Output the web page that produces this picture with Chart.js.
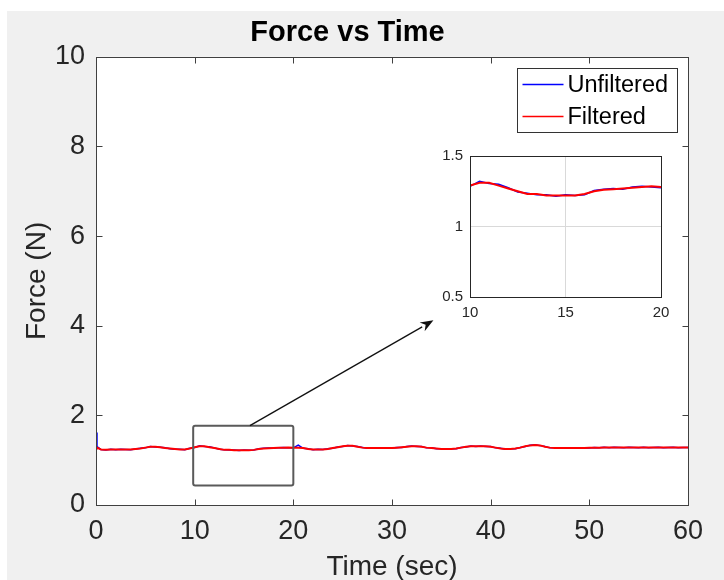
<!DOCTYPE html>
<html>
<head>
<meta charset="utf-8">
<script src="https://cdn.jsdelivr.net/npm/chart.js@4.4.1/dist/chart.umd.min.js"></script>
<style>
html, body { margin: 0; padding: 0; background: #fff; }
#fig { position: absolute; left: 7px; top: 11px; width: 717px; height: 569px; background: #f0f0f0; overflow: hidden; }
#main { position: absolute; left: 0; top: 0; }
#inset { position: absolute; left: 423px; top: 129px; }
</style>
</head>
<body>
<div id="fig">
    <canvas id="main" width="717" height="569"></canvas>
    <canvas id="inset" width="250" height="190"></canvas>
</div>
<script>
// Force vs Time — señal sin filtrar / filtrada + ampliación 10–20 s

const FONT = "'Liberation Sans', Arial, Helvetica, sans-serif";
const AXIS_CLR = '#262626';

const timeSec = [
    0, 0.1,
    0.5, 1, 1.5, 2, 2.5, 3, 3.5, 4, 4.5, 5,
    5.5, 6, 6.5, 7, 7.5, 8, 8.5, 9, 9.5, 10,
    10.5, 11, 11.5, 12, 12.5, 13, 13.5, 14, 14.5, 15,
    15.5, 16, 16.5, 17, 17.5, 18, 18.5, 19, 19.5, 20,
    20.5, 21, 21.5, 22, 22.5, 23, 23.5, 24, 24.5, 25,
    25.5, 26, 26.5, 27, 27.5, 28, 28.5, 29, 29.5, 30,
    30.5, 31, 31.5, 32, 32.5, 33, 33.5, 34, 34.5, 35,
    35.5, 36, 36.5, 37, 37.5, 38, 38.5, 39, 39.5, 40,
    40.5, 41, 41.5, 42, 42.5, 43, 43.5, 44, 44.5, 45,
    45.5, 46, 46.5, 47, 47.5, 48, 48.5, 49, 49.5, 50,
    50.5, 51, 51.5, 52, 52.5, 53, 53.5, 54, 54.5, 55,
    55.5, 56, 56.5, 57, 57.5, 58, 58.5, 59, 59.5, 60
];

const unfiltered = [
    1.62, 1.30,
    1.24, 1.23, 1.245, 1.235, 1.245, 1.24, 1.235, 1.25, 1.265, 1.275,
    1.305, 1.295, 1.29, 1.275, 1.255, 1.245, 1.245, 1.235, 1.265, 1.285,
    1.32, 1.305, 1.30, 1.275, 1.245, 1.235, 1.225, 1.225, 1.215, 1.225,
    1.22, 1.225, 1.255, 1.265, 1.27, 1.265, 1.28, 1.285, 1.28, 1.275,
    1.335, 1.265, 1.255, 1.235, 1.245, 1.24, 1.255, 1.265, 1.295, 1.305,
    1.325, 1.315, 1.305, 1.285, 1.265, 1.275, 1.27, 1.265, 1.275, 1.27,
    1.285, 1.285, 1.305, 1.315, 1.305, 1.305, 1.275, 1.275, 1.255, 1.255,
    1.245, 1.255, 1.255, 1.285, 1.295, 1.315, 1.305, 1.315, 1.305, 1.305,
    1.275, 1.265, 1.245, 1.255, 1.255, 1.285, 1.305, 1.335, 1.345, 1.325,
    1.305, 1.275, 1.275, 1.265, 1.275, 1.27, 1.275, 1.265, 1.275, 1.27,
    1.285, 1.275, 1.29, 1.28, 1.29, 1.285, 1.28, 1.29, 1.285, 1.28,
    1.29, 1.28, 1.285, 1.29, 1.28, 1.285, 1.29, 1.28, 1.285, 1.285
];

const filtered = [
    1.30, 1.28,
    1.24, 1.235, 1.24, 1.24, 1.24, 1.24, 1.24, 1.25, 1.26, 1.28,
    1.30, 1.30, 1.29, 1.27, 1.26, 1.25, 1.24, 1.24, 1.26, 1.29,
    1.31, 1.31, 1.29, 1.27, 1.25, 1.23, 1.23, 1.22, 1.22, 1.22,
    1.22, 1.23, 1.25, 1.26, 1.265, 1.27, 1.275, 1.28, 1.285, 1.28,
    1.28, 1.27, 1.25, 1.24, 1.24, 1.24, 1.25, 1.27, 1.29, 1.31,
    1.32, 1.32, 1.30, 1.28, 1.27, 1.27, 1.27, 1.27, 1.27, 1.27,
    1.28, 1.29, 1.30, 1.31, 1.31, 1.30, 1.28, 1.27, 1.26, 1.25,
    1.25, 1.25, 1.26, 1.28, 1.30, 1.31, 1.31, 1.31, 1.31, 1.30,
    1.28, 1.26, 1.25, 1.25, 1.26, 1.28, 1.31, 1.33, 1.34, 1.33,
    1.30, 1.28, 1.27, 1.27, 1.27, 1.27, 1.27, 1.27, 1.27, 1.275,
    1.28, 1.28, 1.285, 1.285, 1.285, 1.285, 1.285, 1.285, 1.285, 1.285,
    1.285, 1.285, 1.285, 1.285, 1.285, 1.285, 1.285, 1.285, 1.285, 1.285
];

const seriesLabels = ['Unfiltered', 'Filtered'];
const seriesColors = ['#0000ff', '#ff0000'];

const xTicks      = [0, 10, 20, 30, 40, 50, 60];
const yTicks      = [0, 2, 4, 6, 8, 10];
const insetXTicks = [10, 15, 20];
const insetYTicks = [0.5, 1, 1.5];

// zona ampliada y flecha, en unidades de datos
const zoomBox   = { x0: 9.85, x1: 20, y0: 0.435, y1: 1.77 };
const arrowFrom = { x: 15.6, y: 1.77 };
const arrowTo   = { x: 34.2, y: 4.12 };

const points = arr => timeSec.map((t, i) => ({ x: t, y: arr[i] }));
const setTicks = list => scale => { scale.ticks = list.map(v => ({ value: v })); };
const plainLabel = v => String(v);

function makeDatasets(wBlue, wRed) {
    return [
        { label: seriesLabels[0], data: points(unfiltered), borderColor: seriesColors[0], borderWidth: wBlue, order: 1 },
        { label: seriesLabels[1], data: points(filtered),   borderColor: seriesColors[1], borderWidth: wRed,  order: 0 }
    ];
}

// fondo blanco, caja de ejes y marcas hacia dentro
const framePlugin = {
    id: 'frame',
    beforeDraw(chart) {
        const a = chart.chartArea, ctx = chart.ctx;
        ctx.save();
        ctx.fillStyle = '#fff';
        ctx.fillRect(a.left, a.top, a.width, a.height);
        ctx.restore();
    },
    afterDatasetsDraw(chart, args, opts) {
        const a = chart.chartArea, ctx = chart.ctx;
        const L = Math.round(a.left) + 0.5, R = Math.round(a.right) + 0.5;
        const T = Math.round(a.top) + 0.5, B = Math.round(a.bottom) + 0.5;
        ctx.save();
        ctx.strokeStyle = opts.color || AXIS_CLR;
        ctx.lineWidth = 1;
        ctx.strokeRect(L, T, R - L, B - T);
        const len = opts.tickLen || 0;
        if (len) {
            ctx.beginPath();
            chart.scales.x.ticks.forEach(t => {
                const px = Math.round(chart.scales.x.getPixelForValue(t.value)) + 0.5;
                ctx.moveTo(px, B); ctx.lineTo(px, B - len);
                ctx.moveTo(px, T); ctx.lineTo(px, T + len);
            });
            chart.scales.y.ticks.forEach(t => {
                const py = Math.round(chart.scales.y.getPixelForValue(t.value)) + 0.5;
                ctx.moveTo(L, py); ctx.lineTo(L + len, py);
                ctx.moveTo(R, py); ctx.lineTo(R - len, py);
            });
            ctx.stroke();
        }
        ctx.restore();
    }
};

// rectángulo de zoom, flecha y leyenda con marco
const overlayPlugin = {
    id: 'overlay',
    afterDraw(chart) {
        const ctx = chart.ctx, xs = chart.scales.x, ys = chart.scales.y, a = chart.chartArea;
        ctx.save();

        const rx0 = xs.getPixelForValue(zoomBox.x0), rx1 = xs.getPixelForValue(zoomBox.x1);
        const ry0 = ys.getPixelForValue(zoomBox.y1), ry1 = ys.getPixelForValue(zoomBox.y0);
        ctx.strokeStyle = '#5a5a5a';
        ctx.lineWidth = 2;
        ctx.beginPath();
        if (ctx.roundRect) ctx.roundRect(rx0, ry0, rx1 - rx0, ry1 - ry0, 2);
        else ctx.rect(rx0, ry0, rx1 - rx0, ry1 - ry0);
        ctx.stroke();

        const x0 = xs.getPixelForValue(arrowFrom.x), y0 = ys.getPixelForValue(arrowFrom.y);
        const x1 = xs.getPixelForValue(arrowTo.x),   y1 = ys.getPixelForValue(arrowTo.y);
        const ang = Math.atan2(y1 - y0, x1 - x0), head = 13, half = 5;
        const bx = x1 - head * Math.cos(ang), by = y1 - head * Math.sin(ang);
        ctx.strokeStyle = '#111';
        ctx.fillStyle = '#111';
        ctx.lineWidth = 1.3;
        ctx.beginPath(); ctx.moveTo(x0, y0); ctx.lineTo(bx, by); ctx.stroke();
        ctx.beginPath();
        ctx.moveTo(x1, y1);
        ctx.lineTo(bx + half * Math.sin(ang), by - half * Math.cos(ang));
        ctx.lineTo(x1 - (head - 4) * Math.cos(ang), y1 - (head - 4) * Math.sin(ang));
        ctx.lineTo(bx - half * Math.sin(ang), by + half * Math.cos(ang));
        ctx.closePath(); ctx.fill();

        // leyenda
        const lw = 160, lh = 64;
        const lx = Math.round(a.right) - 11 - lw + 0.5, ly = Math.round(a.top) + 11 + 0.5;
        ctx.fillStyle = '#fff';
        ctx.fillRect(lx, ly, lw, lh);
        ctx.strokeStyle = '#333';
        ctx.lineWidth = 1;
        ctx.strokeRect(lx, ly, lw, lh);
        ctx.font = `23.5px ${FONT}`;
        ctx.textBaseline = 'middle';
        ctx.textAlign = 'left';
        seriesLabels.forEach((lab, i) => {
            const cy = ly + 16 + i * 32;
            ctx.strokeStyle = seriesColors[i];
            ctx.lineWidth = 1.5;
            ctx.beginPath(); ctx.moveTo(lx + 5, cy); ctx.lineTo(lx + 46, cy); ctx.stroke();
            ctx.fillStyle = '#000';
            ctx.fillText(lab, lx + 50, cy + 1);
        });
        ctx.restore();
    }
};

const tickFont = size => ({ family: FONT, size });

new Chart(document.getElementById('main'), {
    type: 'line',
    data: { datasets: makeDatasets(1.5, 2) },
    options: {
        responsive: false,
        animation: false,
        events: [],
        elements: { point: { radius: 0 }, line: { tension: 0 } },
        layout: { padding: { left: 0, right: 36, top: 0, bottom: 0 } },
        plugins: {
            legend: { display: false },
            tooltip: { enabled: false },
            title: {
                display: true, text: 'Force vs Time', color: '#000',
                font: { family: FONT, size: 29, weight: 'bold' },
                padding: { top: 5, bottom: 6 }
            },
            frame: { tickLen: 6, color: '#404040' }
        },
        scales: {
            x: {
                type: 'linear', min: 0, max: 60,
                afterBuildTicks: setTicks(xTicks),
                afterFit: s => { s.height = 75; },
                grid: { display: false, drawTicks: false, tickLength: 0 },
                border: { display: false },
                ticks: { font: tickFont(27), color: AXIS_CLR, padding: 10, autoSkip: false, maxRotation: 0, callback: plainLabel },
                title: { display: true, text: 'Time (sec)', color: AXIS_CLR, font: tickFont(28), padding: { top: 0, bottom: -4 } }
            },
            y: {
                type: 'linear', min: 0, max: 10,
                afterBuildTicks: setTicks(yTicks),
                afterFit: s => { s.width = 89; },
                grid: { display: false, drawTicks: false, tickLength: 0 },
                border: { display: false },
                ticks: { font: tickFont(27), color: AXIS_CLR, padding: 11, autoSkip: false, callback: plainLabel },
                title: { display: true, text: 'Force (N)', color: AXIS_CLR, font: tickFont(28), padding: { top: 13, bottom: 0 } }
            }
        }
    },
    plugins: [framePlugin, overlayPlugin]
});

new Chart(document.getElementById('inset'), {
    type: 'line',
    data: { datasets: makeDatasets(1.5, 2) },
    options: {
        responsive: false,
        animation: false,
        events: [],
        elements: { point: { radius: 0 }, line: { tension: 0 } },
        layout: { padding: { left: 0, right: 19, top: 15, bottom: 0 } },
        plugins: {
            legend: { display: false },
            tooltip: { enabled: false },
            frame: { tickLen: 0, color: AXIS_CLR }
        },
        scales: {
            x: {
                type: 'linear', min: 10, max: 20,
                afterBuildTicks: setTicks(insetXTicks),
                afterFit: s => { s.height = 33; },
                grid: { color: '#d9d9d9', drawTicks: false, tickLength: 0 },
                border: { display: false },
                ticks: { font: tickFont(15), color: AXIS_CLR, padding: 7, autoSkip: false, maxRotation: 0, callback: plainLabel }
            },
            y: {
                type: 'linear', min: 0.5, max: 1.5,
                afterBuildTicks: setTicks(insetYTicks),
                afterFit: s => { s.width = 40; },
                grid: { color: '#d9d9d9', drawTicks: false, tickLength: 0 },
                border: { display: false },
                ticks: { font: tickFont(15), color: AXIS_CLR, padding: 7, autoSkip: false, callback: plainLabel }
            }
        }
    },
    plugins: [framePlugin]
});
</script>
</body>
</html>
